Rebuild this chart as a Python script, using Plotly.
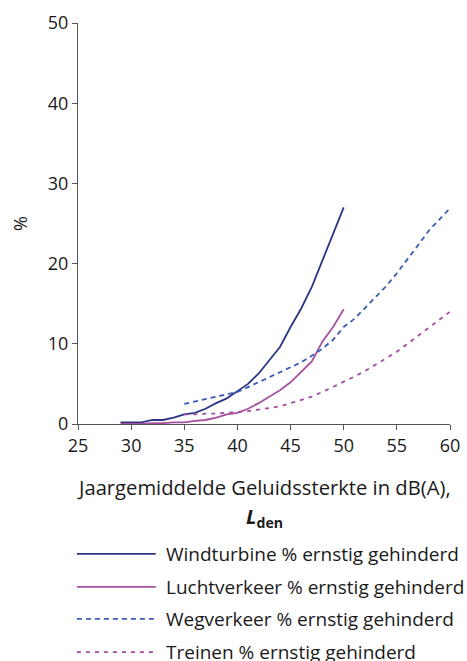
import plotly.graph_objects as go

db_wind = list(range(29, 51))
wind = [0.2, 0.2, 0.2, 0.5, 0.5, 0.8, 1.2, 1.4, 1.9, 2.6, 3.2, 4.1, 5.0, 6.3, 7.9, 9.6, 12.1, 14.4, 17.1, 20.4, 23.6, 27.0]
db_lucht = list(range(29, 51))
lucht = [0.0, 0.0, 0.0, 0.1, 0.1, 0.2, 0.2, 0.4, 0.5, 0.8, 1.2, 1.4, 1.9, 2.6, 3.4, 4.2, 5.2, 6.5, 7.8, 10.3, 12.1, 14.3]
db_weg = list(range(35, 61))
weg = [2.5, 2.8, 3.1, 3.4, 3.7, 4.0, 4.6, 5.2, 5.8, 6.4, 7.0, 7.7, 8.5, 9.4, 10.5, 12.1, 13.1, 14.5, 15.8, 17.2, 18.8, 20.5, 22.3, 24.1, 25.5, 26.9]
db_trein = list(range(35, 61))
trein = [1.2, 1.2, 1.3, 1.3, 1.4, 1.5, 1.6, 1.8, 2.0, 2.2, 2.6, 3.0, 3.4, 4.0, 4.6, 5.3, 5.9, 6.6, 7.4, 8.2, 9.0, 10.0, 11.0, 12.1, 13.1, 14.0]

names = ["Windturbine % ernstig gehinderd", "Luchtverkeer % ernstig gehinderd",
         "Wegverkeer % ernstig gehinderd", "Treinen % ernstig gehinderd"]
colors = ["#2b3585", "#a8509f", "#3a5cb8", "#a44da0"]
dashes = ["solid", "solid", "5px,4px", "4px,5px"]
xs = [db_wind, db_lucht, db_weg, db_trein]
ys = [wind, lucht, weg, trein]

x_ticks = [25, 30, 35, 40, 45, 50, 55, 60]
y_ticks = [0, 10, 20, 30, 40, 50]

FONT = "Open Sans"
TXT = "#1a1a1a"

fig = go.Figure()
for x, y, n, c, d in zip(xs, ys, names, colors, dashes):
    fig.add_trace(go.Scatter(x=x, y=y, name=n, mode="lines",
                             line=dict(color=c, width=1.8, dash=d),
                             showlegend=False))

# manual legend
leg_y = [-0.324, -0.406, -0.486, -0.569]
for ly, n, c, d in zip(leg_y, names, colors, dashes):
    fig.add_shape(type="line", xref="paper", yref="paper", x0=-0.003, x1=0.209,
                  y0=ly, y1=ly, line=dict(color=c, width=1.8, dash=d))
    fig.add_annotation(xref="paper", yref="paper", x=0.232, y=ly, text=n,
                       showarrow=False, xanchor="left", yanchor="middle",
                       font=dict(family=FONT, size=19, color=TXT))

fig.add_annotation(xref="paper", yref="paper", x=0.5, y=-0.157,
                   text="Jaargemiddelde Geluidssterkte in dB(A),",
                   showarrow=False, xanchor="center", yanchor="middle",
                   font=dict(family=FONT, size=20.2, color=TXT))
fig.add_annotation(xref="paper", yref="paper", x=0.5, y=-0.232,
                   text="<b><i>L</i></b><sub><b>den</b></sub>",
                   showarrow=False, xanchor="center", yanchor="middle",
                   font=dict(family=FONT, size=20.2, color=TXT))

fig.update_layout(
    width=467, height=661,
    margin=dict(l=78, r=17, t=23, b=237, autoexpand=False),
    paper_bgcolor="white", plot_bgcolor="white",
    font=dict(family=FONT, size=18, color=TXT),
    xaxis=dict(range=[25, 60], tickvals=x_ticks, showgrid=False, zeroline=False,
               showline=True, linecolor="#555", linewidth=1, automargin=False,
               ticks="outside", ticklen=5, tickcolor="#555",
               tickfont=dict(family=FONT, size=18, color=TXT)),
    yaxis=dict(range=[0, 50], tickvals=y_ticks, showgrid=False, zeroline=False,
               showline=True, linecolor="#555", linewidth=1, automargin=False,
               ticks="outside", ticklen=5, tickcolor="#555",
               tickfont=dict(family=FONT, size=18, color=TXT),
               title=dict(text="%", standoff=15,
                          font=dict(family=FONT, size=18, color=TXT))),
)

fig.write_html("out.html", config={"displayModeBar": False},
               post_script="document.body.style.margin='0';document.body.style.overflow='hidden';")
